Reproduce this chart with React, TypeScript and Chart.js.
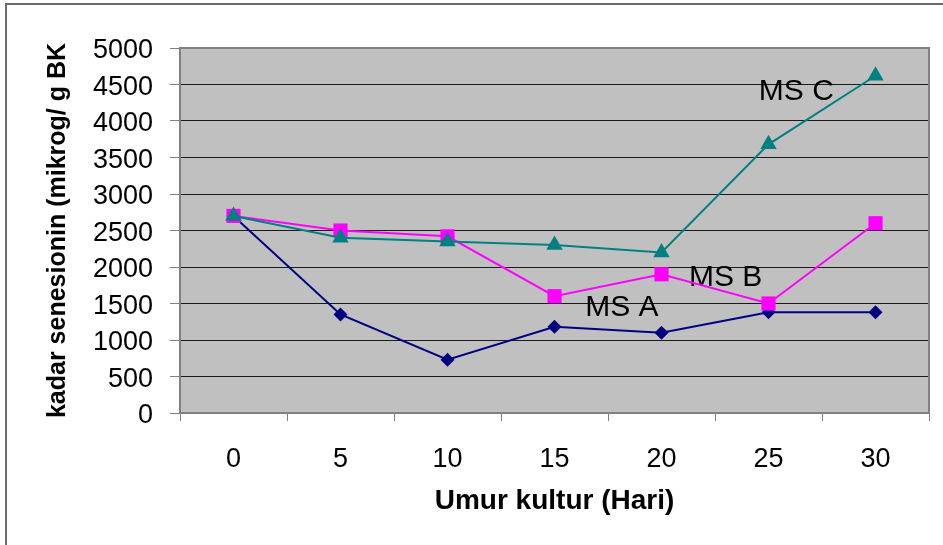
import React, { useEffect, useRef } from "react";
import { Chart, registerables } from "chart.js";

Chart.register(...registerables);

const categories = ["0", "5", "10", "15", "20", "25", "30"];
const msA = [2700, 1350, 730, 1180, 1100, 1380, 1380];
const msB = [2700, 2500, 2420, 1600, 1900, 1500, 2600];
const msC = [2700, 2400, 2350, 2300, 2200, 3680, 4620];
const seriesNames = ["MS A", "MS B", "MS C"];
// label anchors: [category index (fractional), value]
const labelAnchors: [number, number][] = [
  [3.63, 1445],
  [4.6, 1849],
  [5.26, 4397],
];
const yTitle = "kadar senesionin (mikrog/ g BK";
const xTitle = "Umur kultur (Hari)";

const FONT = "'Liberation Sans', Arial, sans-serif";

export default function App() {
  const ref = useRef<HTMLCanvasElement | null>(null);

  useEffect(() => {
    if (!ref.current) return;
    const bgPlugin = {
      id: "bgPlugin",
      beforeDraw(chart: any) {
        const { ctx, chartArea: a } = chart;
        ctx.save();
        ctx.fillStyle = "#ffffff";
        ctx.fillRect(0, 0, chart.width, chart.height);
        ctx.strokeStyle = "#6a6a6a";
        ctx.lineWidth = 2;
        ctx.strokeRect(6, 4, chart.width + 20, chart.height + 20);
        ctx.fillStyle = "#C0C0C0";
        ctx.fillRect(a.left, a.top, a.right - a.left, a.bottom - a.top);
        ctx.restore();
      },
      beforeDatasetsDraw(chart: any) {
        const { ctx, chartArea: a, scales } = chart;
        ctx.save();
        ctx.strokeStyle = "#808080";
        ctx.lineWidth = 2;
        ctx.beginPath();
        ctx.moveTo(a.left, a.top);
        ctx.lineTo(a.right, a.top);
        ctx.lineTo(a.right, a.bottom);
        ctx.stroke();
        ctx.fillStyle = "#000000";
        ctx.font = `30px ${FONT}`;
        ctx.textAlign = "center";
        ctx.textBaseline = "middle";
        labelAnchors.forEach(([ix, v], i) => {
          const x = scales.x.getPixelForValue(ix);
          const y = scales.y.getPixelForValue(v);
          ctx.fillText(seriesNames[i], x, y);
        });
        ctx.restore();
      },
    };

    const chart = new Chart(ref.current, {
      type: "line",
      data: {
        labels: categories,
        datasets: [
          {
            label: seriesNames[0],
            data: msA,
            borderColor: "#000080",
            backgroundColor: "#000080",
            borderWidth: 2,
            pointStyle: "rectRot",
            pointRadius: 7,
            pointBorderWidth: 0,
            order: 3,
          },
          {
            label: seriesNames[1],
            data: msB,
            borderColor: "#FF00FF",
            backgroundColor: "#FF00FF",
            borderWidth: 2,
            pointStyle: "rect",
            pointRadius: 10,
            pointBorderWidth: 0,
            order: 2,
          },
          {
            label: seriesNames[2],
            data: msC,
            borderColor: "#008080",
            backgroundColor: "#008080",
            borderWidth: 2,
            pointStyle: "triangle",
            pointRadius: 9.5,
            pointBorderWidth: 0,
            order: 1,
          },
        ],
      },
      options: {
        responsive: false,
        animation: false,
        events: [],
        layout: { padding: { left: 0, top: 48, right: 14, bottom: 0 } },
        plugins: {
          legend: { display: false },
          tooltip: { enabled: false },
        },
        scales: {
          x: {
            type: "category",
            offset: true,
            grid: {
              display: true,
              drawOnChartArea: false,
              offset: true,
              tickLength: 8,
              color: "#808080",
              lineWidth: 1,
            },
            border: { display: true, color: "#808080", width: 2 },
            ticks: {
              color: "#000000",
              font: { family: FONT, size: 27 },
              padding: 22,
              maxRotation: 0,
            },
            title: {
              display: true,
              text: xTitle,
              color: "#000000",
              font: { family: FONT, size: 28, weight: "bold" },
              padding: { top: 0, bottom: 27 },
            },
            afterFit(scale: any) {
              scale.height = 132;
            },
          },
          y: {
            min: 0,
            max: 5000,
            ticks: {
              stepSize: 500,
              color: "#000000",
              font: { family: FONT, size: 27 },
              padding: 17,
              labelOffset: 3,
              callback: (v: any) => String(v),
            },
            grid: {
              color: "#1a1a1a",
              lineWidth: 1,
              tickLength: 10,
              tickColor: "#808080",
            },
            border: { display: true, color: "#808080", width: 2 },
            title: {
              display: true,
              text: yTitle,
              color: "#000000",
              font: { family: FONT, size: 25, weight: "bold" },
              padding: { top: 43, bottom: 0 },
            },
            afterFit(scale: any) {
              scale.width = 180;
            },
          },
        },
      },
      plugins: [bgPlugin],
    });
    return () => chart.destroy();
  }, []);

  return (
    <div style={{ position: "fixed", left: 0, top: 0, width: 943, height: 545 }}>
      <canvas ref={ref} width={943} height={545} style={{ display: "block" }} />
    </div>
  );
}
